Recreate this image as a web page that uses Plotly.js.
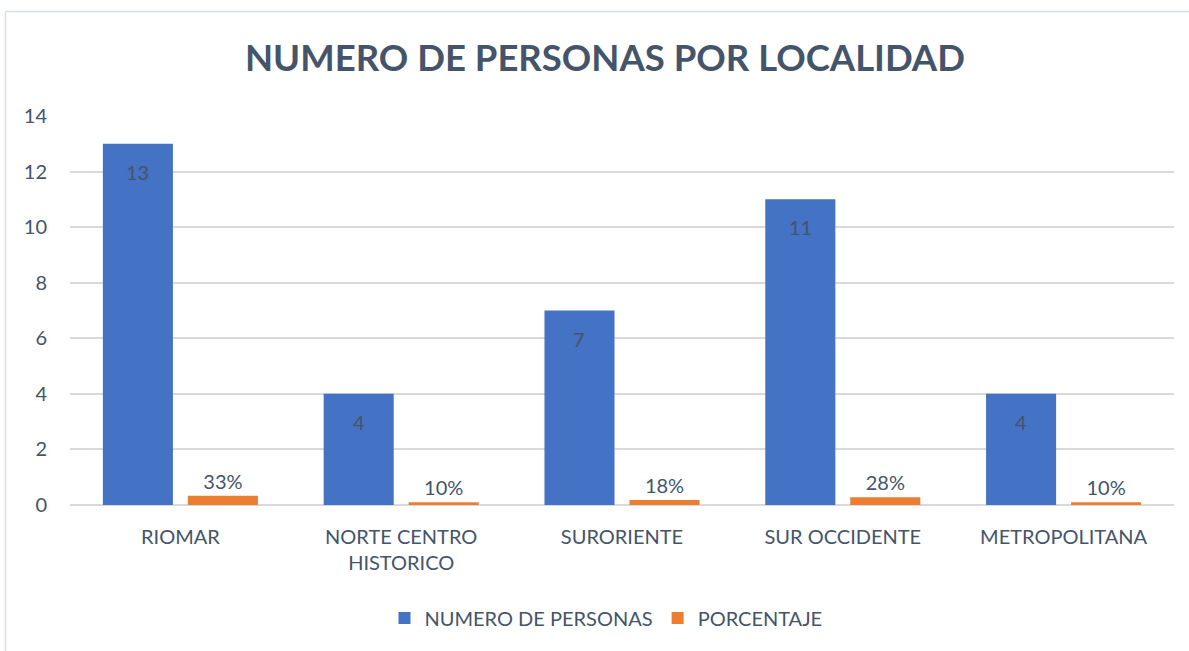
<!DOCTYPE html>
<html>
<head>
<meta charset="utf-8">
<script src="https://cdn.plot.ly/plotly-3.0.1.min.js"></script>
<style>
  html, body { margin: 0; padding: 0; background: #fff; }
  #chart { width: 1189px; height: 651px; }
</style>
</head>
<body>
<div id="chart"></div>
<script>
const categories = ['RIOMAR', 'NORTE CENTRO<br>HISTORICO', 'SURORIENTE', 'SUR OCCIDENTE', 'METROPOLITANA'];
const personas = [13, 4, 7, 11, 4];
const porcentaje = [0.33, 0.10, 0.18, 0.28, 0.10];
const seriesNames = ['NUMERO DE PERSONAS', 'PORCENTAJE'];
const titleText = 'NUMERO DE PERSONAS POR LOCALIDAD';

const FONT = 'Lato, "Open Sans", sans-serif';
const TXT = '#44546A';

const W = 1189, H = 651;
const margin = {l: 70, r: 15, t: 116, b: 146};
const plotW = W - margin.l - margin.r;
const bargap = 0.23, bargroupgap = 0.176;
const catW = plotW / categories.length;
const slotW = catW * (1 - bargap) / 2;

const traces = [
  {
    type: 'bar', name: seriesNames[0], x: categories, y: personas,
    marker: {color: '#4472C4'},
    hoverinfo: 'x+y'
  },
  {
    type: 'bar', name: seriesNames[1], x: categories, y: porcentaje,
    marker: {color: '#ED7D31'},
    texttemplate: '%{y:.0%}', textposition: 'outside', cliponaxis: false,
    textfont: {family: FONT, size: 20, color: TXT}
  }
];

const annotations = categories.map((c, i) => ({
  x: c, y: personas[i], xref: 'x', yref: 'y',
  text: String(personas[i]), showarrow: false,
  xshift: -slotW / 2, yshift: -28,
  font: {family: FONT, size: 20, color: TXT}
}));

// chart border (top and left edges)
const px = v => (v - margin.l) / plotW;
const py = v => (H - margin.b - v) / (H - margin.t - margin.b);
const shapes = [
  {type: 'line', xref: 'paper', yref: 'paper', x0: px(5.5), x1: px(1189), y0: py(11.5), y1: py(11.5), line: {color: '#D9DEE6', width: 1.5}},
  {type: 'line', xref: 'paper', yref: 'paper', x0: px(5.5), x1: px(5.5), y0: py(11.5), y1: py(651), line: {color: '#D9DEE6', width: 1.5}}
];

const layout = {
  width: W, height: H,
  margin: margin,
  paper_bgcolor: '#fff', plot_bgcolor: '#fff',
  font: {family: FONT, color: TXT, size: 20},
  title: {
    text: '<b>' + titleText + '</b>',
    font: {family: FONT, size: 36.5, color: '#44546A'},
    x: 605 / W, xref: 'container', xanchor: 'center',
    y: 1 - 58 / H, yref: 'container', yanchor: 'middle'
  },
  barmode: 'group', bargap: bargap, bargroupgap: bargroupgap,
  xaxis: {
    type: 'category', showgrid: false, zeroline: false, showline: false,
    ticks: '', ticklabelstandoff: 18,
    tickfont: {family: FONT, size: 20, color: TXT}
  },
  yaxis: {
    range: [0, 14], dtick: 2, tick0: 0,
    showgrid: true, gridcolor: '#D9D9D9', gridwidth: 1.5,
    zeroline: true, zerolinecolor: '#D9D9D9', zerolinewidth: 1.5,
    showline: false, ticks: '', ticklen: 0, ticklabelstandoff: 22,
    tickfont: {family: FONT, size: 20, color: TXT}
  },
  legend: {
    orientation: 'h', xref: 'container', yref: 'container',
    x: 606 / W, xanchor: 'center', y: 1 - 618 / H, yanchor: 'middle',
    font: {family: FONT, size: 20, color: TXT},
    itemwidth: 30, tracegroupgap: 0
  },
  annotations: annotations,
  shapes: shapes,
  showlegend: true
};

Plotly.newPlot('chart', traces, layout, {displayModeBar: false, responsive: false});
</script>
</body>
</html>
